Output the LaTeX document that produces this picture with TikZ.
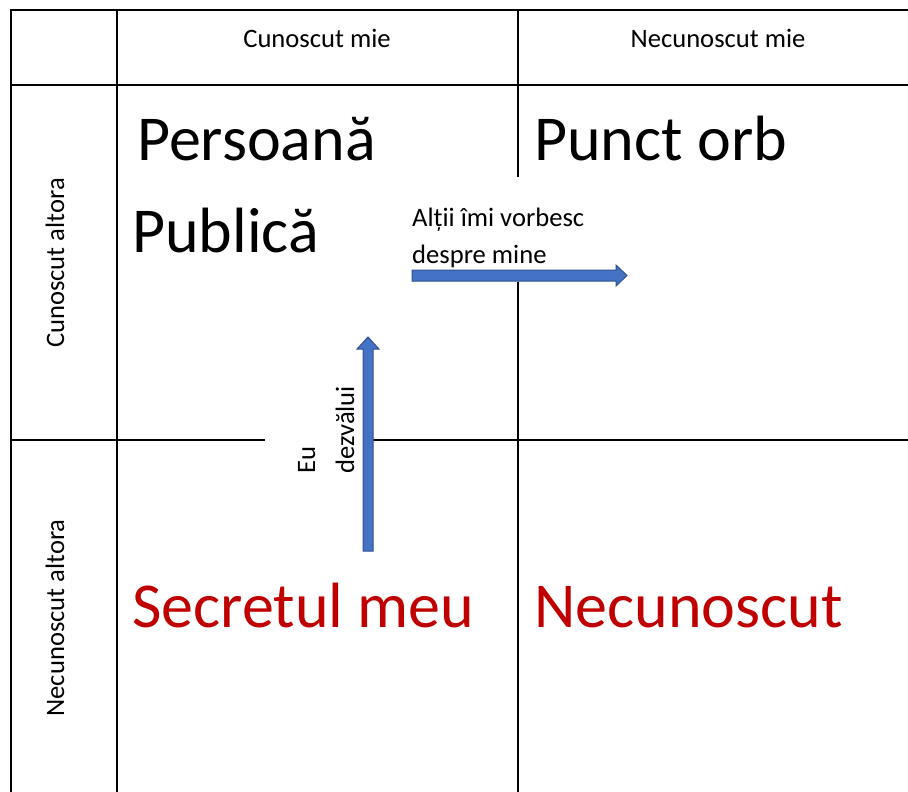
\documentclass[tikz,border=0pt]{standalone}
\usepackage{fontspec}
\setmainfont{Carlito}
\definecolor{boxblue}{RGB}{68,114,196}
\definecolor{boxedge}{RGB}{47,82,143}
\definecolor{secretred}{RGB}{192,0,0}
\begin{document}
\begin{tikzpicture}[x=1pt,y=-1pt]
  \tikzstyle{small}=[inner sep=0pt,font=\fontsize{26.6}{37}\selectfont]
  \tikzstyle{big}=[inner sep=0pt,font=\fontsize{64}{75}\selectfont]
  \tikzstyle{grid}=[line width=2pt]
  \tikzstyle{blockarrow}=[fill=boxblue,draw=boxedge,line width=1pt]
  \useasboundingbox (0,0) rectangle (908,792);
  % table lines
  \draw[grid] (11,792) -- (11,10) -- (908,10);
  \draw[grid] (11,85) -- (908,85);
  \draw[grid] (117,10) -- (117,792);
  \draw[grid] (518,10) -- (518,177);
  \draw[grid] (518,282) -- (518,792);
  \draw[grid] (11,440) -- (265,440);
  \draw[grid] (373,440) -- (908,440);
  % headers
  \node[small,anchor=base] (known) at (317,48) {Cunoscut mie};
  \node[small,anchor=base] (unknown) at (718,48) {Necunoscut mie};
  \node[small,rotate=90] (knownothers) at (55,263) {Cunoscut altora};
  \node[small,rotate=90] (unknownothers) at (55,618) {Necunoscut altora};
  % quadrants
  \node[big,anchor=base west] (persoana) at (137,160) {Persoană};
  \node[big,anchor=base west] (publica) at (132,252) {Publică};
  \node[big,anchor=base west] (punct) at (534,160) {Punct orb};
  \node[big,anchor=base west,text=secretred] (secret) at (132,627) {Secretul meu};
  \node[big,anchor=base west,text=secretred] (necunoscut) at (534,627) {Necunoscut};
  % arrows
  \draw[blockarrow] (412,270) -- (616,270) -- (616,265) -- (627,275.5) -- (616,286) -- (616,281) -- (412,281) -- cycle;
  \node[small,anchor=base west] (altii) at (412,226) {Alții îmi vorbesc};
  \node[small,anchor=base west] (despre) at (412,263) {despre mine};
  \draw[blockarrow] (363,551) -- (363,349) -- (357,349) -- (368,337) -- (379,349) -- (373,349) -- (373,551) -- cycle;
  \node[small,rotate=90,anchor=base west] (eu) at (315,474) {Eu};
  \node[small,rotate=90,anchor=base west] (dezvalui) at (354,474) {dezvălui};
\end{tikzpicture}
\end{document}
